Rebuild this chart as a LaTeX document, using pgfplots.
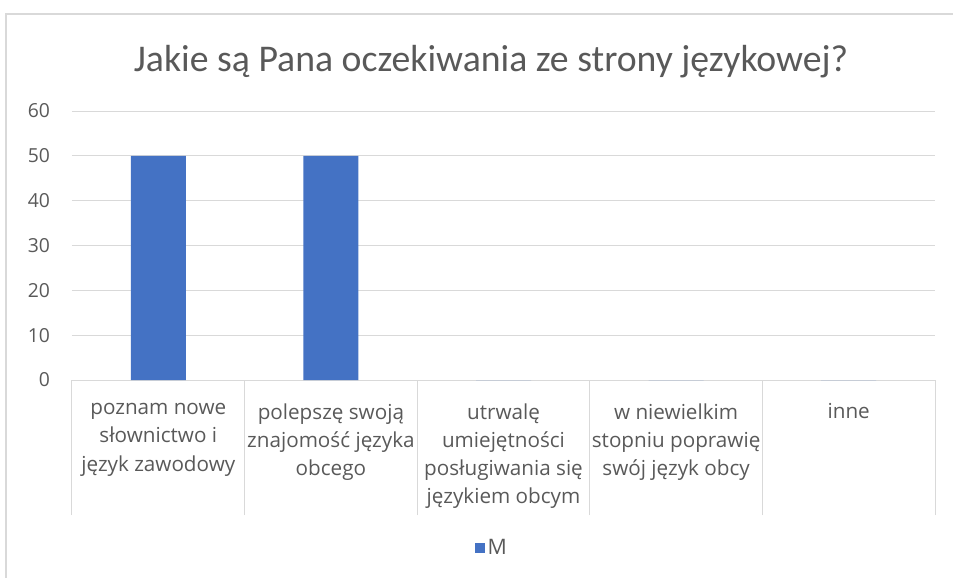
\documentclass[border=0pt]{standalone}
\usepackage{pgfplots}
\pgfplotsset{compat=1.18}
\usepackage{fontspec}
\setmainfont{Open Sans}
\newfontfamily\titlefont{Carlito}
\definecolor{barblue}{HTML}{4472C4}
\definecolor{gridgray}{HTML}{D9D9D9}
\definecolor{textgray}{HTML}{595959}
\begin{document}
\begin{tikzpicture}[x=0.75pt,y=0.75pt]
\path[use as bounding box] (-72,-198) rectangle (881,380);
\draw[gridgray,line width=1pt] (-66,-198) -- (-66,366) -- (881,366);
\node[textgray,font=\titlefont\fontsize{28.3}{34}\selectfont] at (419,318) {Jakie są Pana oczekiwania ze strony językowej?};
\begin{axis}[
  scale only axis, width=647.25pt, height=201.75pt,
  xmin=-0.5, xmax=4.5, ymin=0, ymax=60,
  /pgf/number format/assume math mode=true,
  ytick={0,10,...,60},
  xtick={0,1,2,3,4},
  xticklabels={{poznam nowe\\słownictwo i\\język zawodowy},{polepszę swoją\\znajomość języka\\obcego},{utrwalę\\umiejętności\\posługiwania się\\językiem obcym},{w niewielkim\\stopniu poprawię\\swój język obcy},{inne}},
  xticklabel style={align=center, anchor=north, yshift=-14pt, font=\fontsize{15.5}{21.2}\selectfont, text=textgray},
  yticklabel style={font=\fontsize{14.5}{17}\selectfont, text=textgray, xshift=-13pt},
  major tick length=0pt,
  extra x ticks={-0.5,0.5,1.5,2.5,3.5,4.5},
  extra x tick labels={},
  extra x tick style={major tick length=101.25pt, tick align=outside, tick style={gridgray, line width=0.75pt}, grid=none},
  ymajorgrids, grid style={gridgray, line width=0.75pt},
  axis x line*=bottom, axis y line*=left,
  x axis line style={gridgray, line width=0.75pt, -},
  y axis line style={draw=none},
  ybar, bar width=41.25pt,
  legend style={draw=none, at={(0.487,-0.6245)}, anchor=center, font=\fontsize{16}{19}\selectfont, text=textgray},
  legend image code/.code={\fill[#1] (0pt,-3.75pt) rectangle (7.5pt,3.75pt);},
]
\addplot[fill=barblue, draw=none] coordinates {(0,50) (1,50) (2,0) (3,0) (4,0)};
\addlegendentry{M}
\end{axis}
\end{tikzpicture}
\end{document}
